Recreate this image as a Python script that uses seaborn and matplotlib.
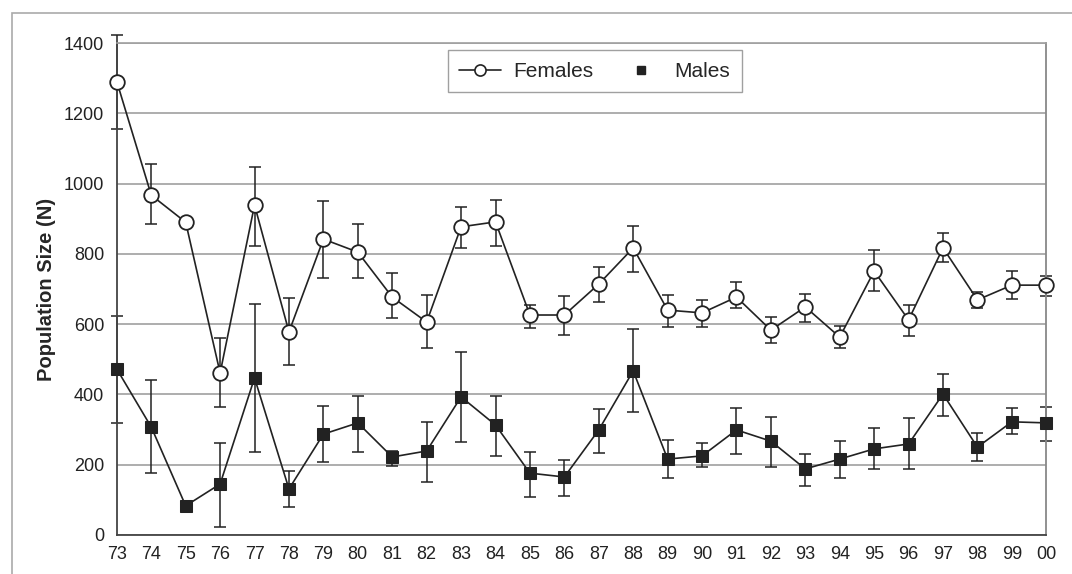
import numpy as np
import pandas as pd
import matplotlib
matplotlib.use('Agg')
import matplotlib.pyplot as plt
from matplotlib.lines import Line2D
from matplotlib.patches import Rectangle
import seaborn as sns

# ── datos ────────────────────────────────────────────────────────────────────
years = ['73', '74', '75', '76', '77', '78', '79', '80', '81', '82', '83', '84', '85', '86',
         '87', '88', '89', '90', '91', '92', '93', '94', '95', '96', '97', '98', '99', '00']

females = [1290, 967, 890, 461, 939, 578, 842, 805, 677, 606, 877, 891, 626, 626,
           714, 817, 640, 632, 677, 583, 649, 563, 751, 612, 817, 669, 711, 711]
females_hi = [1423, 1056, np.nan, 560, 1047, 674, 950, 885, 746, 683, 934, 953, 655, 680,
              763, 879, 683, 669, 720, 620, 686, 595, 811, 655, 859, 692, 751, 737]
females_lo = [1155, 885, np.nan, 364, 822, 483, 731, 731, 617, 532, 817, 822, 589, 569,
              663, 748, 592, 592, 646, 546, 606, 532, 694, 566, 777, 646, 672, 680]

males = [472, 307, 83, 145, 447, 131, 287, 319, 222, 239, 393, 313, 176, 165,
         299, 467, 216, 225, 299, 267, 188, 216, 245, 259, 401, 250, 322, 319]
males_hi = [623, 441, np.nan, 262, 657, 182, 367, 396, 239, 322, 521, 396, 236, 213,
            359, 586, 270, 262, 361, 336, 230, 267, 305, 333, 458, 290, 361, 364]
males_lo = [319, 176, np.nan, 23, 236, 80, 208, 236, 196, 151, 265, 225, 108, 111,
            233, 350, 162, 194, 230, 194, 139, 162, 188, 188, 339, 211, 287, 267]

yticks = [0, 200, 400, 600, 800, 1000, 1200, 1400]

INK = '#222222'

sns.set_theme(style='white')
plt.rcParams['font.family'] = ['Liberation Sans', 'DejaVu Sans']

df = pd.DataFrame({
    'pos': np.arange(len(years)),
    'Females': females, 'F_hi': females_hi, 'F_lo': females_lo,
    'Males': males, 'M_hi': males_hi, 'M_lo': males_lo,
})

fig = plt.figure(figsize=(10.72, 5.74), dpi=100)
ax = fig.add_axes([0.109, 0.068, 0.867, 0.857])

# marco exterior del gráfico
fig.patches.append(Rectangle((0.011, -0.1), 1.2, 1.078, transform=fig.transFigure,
                             fill=False, edgecolor='#aaaaaa', linewidth=1.2))

# barras de error (asimétricas)
for col, hi, lo in [('Females', 'F_hi', 'F_lo'), ('Males', 'M_hi', 'M_lo')]:
    err = np.vstack([df[col] - df[lo], df[hi] - df[col]])
    eb = ax.errorbar(df['pos'], df[col], yerr=err, fmt='none', ecolor=INK,
                     elinewidth=1.1, capsize=4, capthick=1.1, zorder=2)
    for art in eb.get_children():
        art.set_clip_on(False)

sns.lineplot(data=df, x='pos', y='Females', ax=ax, color=INK, linewidth=1.2,
             marker='o', markersize=10.5, markerfacecolor='white',
             markeredgecolor=INK, markeredgewidth=1.3, zorder=3)
sns.lineplot(data=df, x='pos', y='Males', ax=ax, color=INK, linewidth=1.2,
             marker='s', markersize=8, markerfacecolor=INK,
             markeredgecolor=INK, zorder=3)
for ln in ax.lines:
    ln.set_clip_on(False)

ax.set_xlim(0, len(years) - 1)
ax.set_ylim(0, 1400)
ax.set_xticks(df['pos'])
ax.set_xticklabels(years)
ax.set_yticks(yticks)
ax.set_xlabel('')
ax.set_ylabel('Population Size (N)', fontsize=14.5, fontweight='bold', labelpad=6)

ax.yaxis.grid(True, color='#a0a0a0', linewidth=1.2)
ax.set_axisbelow(True)
ax.tick_params(axis='both', which='both', direction='out', length=5, width=1,
               color='#555555', labelsize=13, labelcolor='#222222')
ax.tick_params(axis='y', pad=4)
ax.tick_params(axis='x', pad=3)

for side in ['left', 'bottom']:
    ax.spines[side].set_color('#444444')
    ax.spines[side].set_linewidth(1.3)
ax.spines['right'].set_color('#888888')
ax.spines['right'].set_linewidth(1.3)
ax.spines['top'].set_color('#a0a0a0')
ax.spines['top'].set_linewidth(1.2)

handles = [
    Line2D([], [], color=INK, linewidth=1.2, marker='o', markersize=8,
           markerfacecolor='white', markeredgecolor=INK, markeredgewidth=1.2),
    Line2D([], [], linestyle='none', marker='s', markersize=5.5,
           markerfacecolor=INK, markeredgecolor=INK),
]
leg = ax.legend(handles, ['Females', 'Males'], ncol=2, loc='upper left',
                bbox_to_anchor=(0.356, 0.985), borderaxespad=0, fontsize=15,
                frameon=True, fancybox=False, edgecolor='#888888', handlelength=2.0,
                columnspacing=1.3, borderpad=0.55, handletextpad=0.6)
leg.get_frame().set_linewidth(1.0)

fig.savefig('out.png', dpi=100)
